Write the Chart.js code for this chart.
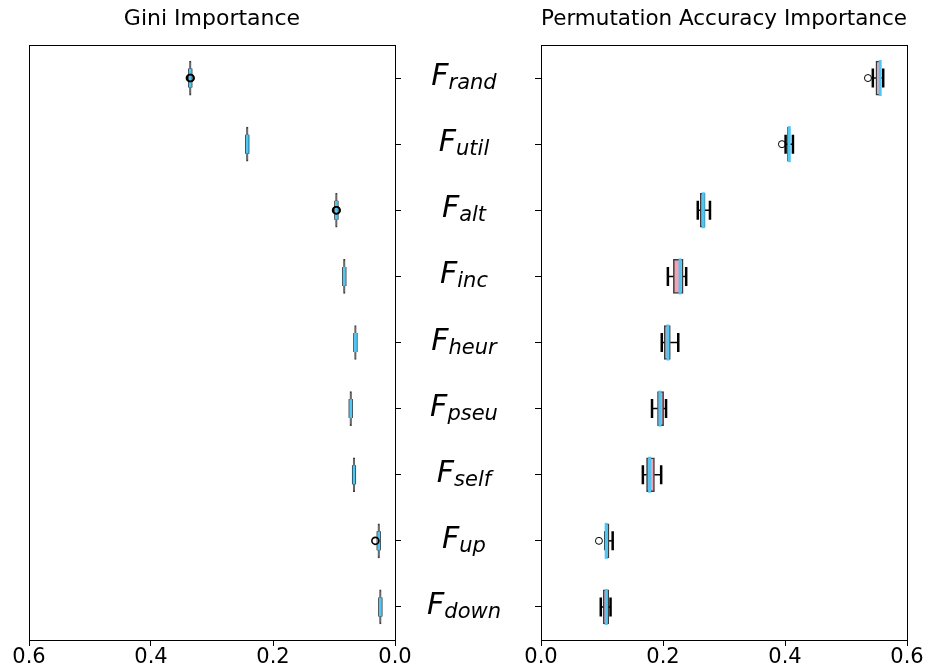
<!DOCTYPE html>
<html>
<head>
<meta charset="utf-8">
<script src="https://cdn.jsdelivr.net/npm/chart.js@4.4.1/dist/chart.umd.min.js"></script>
<style>
html, body { margin:0; padding:0; background:#fff; }
#wrap { position:relative; width:927px; height:669px; }
#wrap canvas { position:absolute; left:0; top:0; }
</style>
</head>
<body>
<div id="wrap">
<canvas id="gini" width="927" height="669"></canvas>
<canvas id="perm" width="927" height="669"></canvas>
</div>
<script>
const features = ["rand", "util", "alt", "inc", "heur", "pseu", "self", "up", "down"]
const xTicks = [0, 0.2, 0.4, 0.6]

// Gini importance (left panel, boxes are almost flat)
const giniLo  = [0.3343, 0.2409, 0.0948, 0.0818, 0.0636, 0.0713, 0.0659, 0.0254, 0.0227]
const giniQ1  = [0.3343, 0.2409, 0.0948, 0.0818, 0.0636, 0.0713, 0.0659, 0.0254, 0.0227]
const giniMed = [0.3356, 0.2422, 0.0961, 0.0831, 0.0649, 0.0726, 0.0672, 0.0267, 0.0240]
const giniQ3  = [0.3369, 0.2435, 0.0974, 0.0844, 0.0662, 0.0739, 0.0685, 0.0280, 0.0253]
const giniHi  = [0.3369, 0.2435, 0.0974, 0.0844, 0.0662, 0.0739, 0.0685, 0.0280, 0.0253]
const giniOut = [[0.3350, 0.3362], [], [0.0956, 0.0966], [], [], [], [], [0.0322], []]

// Permutation accuracy importance (right panel)
const permLo  = [0.544, 0.401, 0.257, 0.208, 0.198, 0.182, 0.167, 0.1055, 0.098]
const permQ1  = [0.549, 0.404, 0.261, 0.217, 0.202, 0.191, 0.173, 0.1055, 0.102]
const permMed = [0.556, 0.407, 0.266, 0.228, 0.208, 0.195, 0.178, 0.1068, 0.107]
const permQ3  = [0.557, 0.408, 0.269, 0.233, 0.212, 0.201, 0.186, 0.1115, 0.111]
const permHi  = [0.561, 0.413, 0.277, 0.238, 0.225, 0.205, 0.197, 0.1175, 0.114]
const permOut = [[0.536], [0.395], [], [], [], [], [], [0.095], []]

const FONT = "'DejaVu Sans', sans-serif"
const PINK = "#f2a3b6"
const EDGE = "#3c3c3c"
const BLUE = "#52c6f2"

function boxPlugin(lo, hi, med, out, medianLen, ringWidth){
    return {
        id: "whiskers",
        afterDatasetsDraw(chart){
            const { ctx } = chart
            const x = chart.scales.x
            const y = chart.scales.y
            const q1 = chart.data.datasets[0].data.map(d => d[0])
            const q3 = chart.data.datasets[0].data.map(d => d[1])
            ctx.save()
            ctx.strokeStyle = "#000"
            features.forEach((f, i) => {
                const cy = y.getPixelForValue(i)
                const pLo = x.getPixelForValue(lo[i])
                const pHi = x.getPixelForValue(hi[i])
                // whiskers
                ctx.lineWidth = 1.5
                ctx.beginPath()
                ctx.moveTo(pLo, cy)
                ctx.lineTo(x.getPixelForValue(q1[i]), cy)
                ctx.moveTo(x.getPixelForValue(q3[i]), cy)
                ctx.lineTo(pHi, cy)
                ctx.stroke()
                // caps
                ctx.lineWidth = 2.5
                ctx.beginPath()
                ctx.moveTo(pLo, cy - 9.5)
                ctx.lineTo(pLo, cy + 9.5)
                ctx.moveTo(pHi, cy - 9.5)
                ctx.lineTo(pHi, cy + 9.5)
                ctx.stroke()
                // median
                const pm = x.getPixelForValue(med[i])
                ctx.strokeStyle = BLUE
                ctx.lineWidth = 3
                ctx.beginPath()
                ctx.moveTo(pm, cy - medianLen / 2)
                ctx.lineTo(pm, cy + medianLen / 2)
                ctx.stroke()
                // fliers
                ctx.strokeStyle = "#000"
                ctx.lineWidth = ringWidth
                out[i].forEach(v => {
                    ctx.beginPath()
                    ctx.arc(x.getPixelForValue(v), cy, 3.5, 0, Math.PI * 2)
                    ctx.stroke()
                })
            })
            ctx.restore()
        }
    }
}

const framePlugin = {
    id: "frame",
    afterDraw(chart){
        const { ctx, chartArea: a } = chart
        ctx.save()
        ctx.strokeStyle = "#000"
        ctx.lineWidth = 1
        ctx.strokeRect(Math.round(a.left) + 0.5, Math.round(a.top) + 0.5,
            Math.round(a.right - a.left), Math.round(a.bottom - a.top))
        ctx.restore()
    }
}

const labelPlugin = {
    id: "featLabels",
    afterDraw(chart){
        const { ctx } = chart
        const y = chart.scales.y
        const cx = chart.chartArea.left - 77
        ctx.save()
        ctx.fillStyle = "#000"
        ctx.textBaseline = "alphabetic"
        features.forEach((f, i) => {
            const cy = y.getPixelForValue(i)
            ctx.font = "italic 30px " + FONT
            const wF = ctx.measureText("F").width
            ctx.font = "italic 21px " + FONT
            const wS = ctx.measureText(f).width
            const x0 = cx - (wF + wS) / 2
            ctx.font = "italic 30px " + FONT
            ctx.fillText("F", x0, cy + 7)
            ctx.font = "italic 21px " + FONT
            ctx.fillText(f, x0 + wF, cy + 11)
        })
        ctx.restore()
    }
}

function makeOptions(title, reverse, yPos, padding){
    return {
        responsive: false,
        animation: false,
        indexAxis: "y",
        layout: { padding },
        plugins: {
            legend: { display: false },
            tooltip: { enabled: false },
            title: {
                display: true,
                text: title,
                fullSize: false,
                color: "#000",
                font: { family: FONT, size: 22, weight: "normal" },
                padding: { top: 6, bottom: 12.6 }
            }
        },
        scales: {
            x: {
                type: "linear",
                min: 0,
                max: 0.6,
                reverse,
                afterBuildTicks(scale){ scale.ticks = xTicks.map(v => ({ value: v })) },
                afterFit(scale){ scale.height = 29 },
                border: { display: false },
                grid: { drawOnChartArea: false, drawTicks: true, tickLength: 6, color: "#000" },
                ticks: {
                    color: "#000",
                    padding: 1,
                    font: { family: FONT, size: 21, lineHeight: 1 },
                    maxRotation: 0,
                    callback: v => Number(v).toFixed(1)
                }
            },
            y: {
                type: "category",
                position: yPos,
                offset: true,
                afterFit(scale){ scale.width = 6 },
                border: { display: false },
                grid: { offset: false, drawOnChartArea: false, drawTicks: true, tickLength: 6, color: "#000" },
                ticks: { display: false }
            }
        }
    }
}

new Chart(document.getElementById("gini"), {
    type: "bar",
    data: {
        labels: features,
        datasets: [{
            data: features.map((f, i) => [giniQ1[i], giniQ3[i]]),
            backgroundColor: EDGE,
            borderColor: EDGE,
            borderWidth: 1,
            borderSkipped: false,
            barThickness: 34
        }]
    },
    options: makeOptions("Gini Importance", true, "right", { left: 29, right: 526, top: 0, bottom: 0 }),
    plugins: [boxPlugin(giniLo, giniHi, giniMed, giniOut, 19, 1.6), framePlugin]
})

new Chart(document.getElementById("perm"), {
    type: "bar",
    data: {
        labels: features,
        datasets: [{
            data: features.map((f, i) => [permQ1[i], permQ3[i]]),
            backgroundColor: PINK,
            borderColor: EDGE,
            borderWidth: 1.5,
            borderSkipped: false,
            barThickness: 34
        }]
    },
    options: makeOptions("Permutation Accuracy Importance", false, "left", { left: 535, right: 20, top: 0, bottom: 0 }),
    plugins: [boxPlugin(permLo, permHi, permMed, permOut, 36, 1), framePlugin, labelPlugin]
})
</script>
</body>
</html>
